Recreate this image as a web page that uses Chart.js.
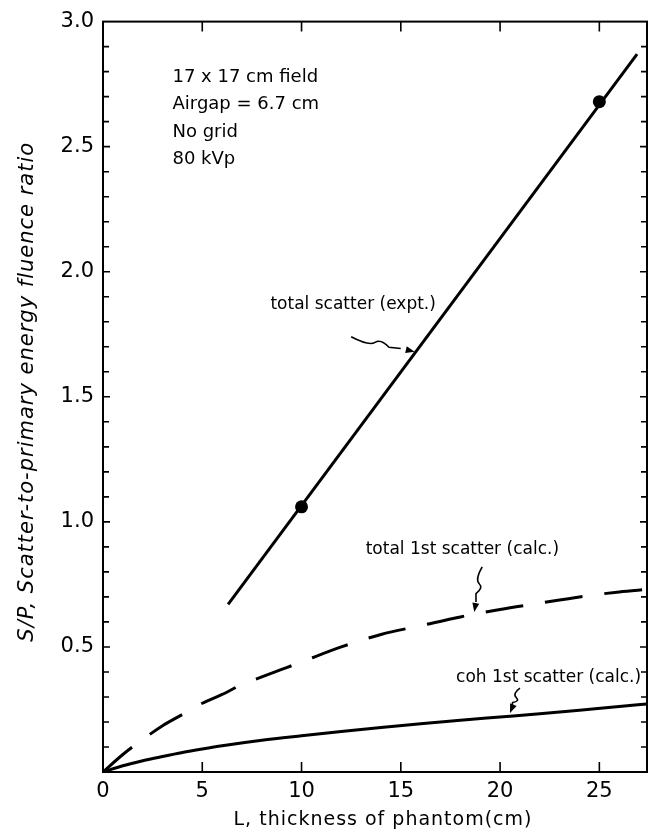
<!DOCTYPE html>
<html>
<head>
<meta charset="utf-8">
<script src="https://cdn.jsdelivr.net/npm/chart.js@4.4.1/dist/chart.umd.min.js"></script>
<style>
  html, body { margin: 0; padding: 0; background: #fff; }
  #wrap { width: 654px; height: 837px; position: relative; }
</style>
</head>
<body>
<div id="wrap"><canvas id="c" width="654" height="837"></canvas></div>
<script>
// ---- data ----
const exptLineX = [6.3, 26.9];
const exptLineY = [0.67, 2.87];
const exptPointX = [10, 25];
const exptPointY = [1.06, 2.68];

const totalCalcX = [0, 1, 2, 3, 4, 5, 6, 7, 8, 9, 10, 12, 14, 16, 18, 20, 22, 24, 26, 27.4];
const totalCalcY = [0, 0.07, 0.13, 0.185, 0.23, 0.275, 0.31, 0.35, 0.38, 0.41, 0.44, 0.50, 0.55, 0.585, 0.62, 0.65, 0.675, 0.70, 0.72, 0.73];

const cohCalcX = [0, 1, 2, 3, 4, 5, 6, 8, 10, 12, 14, 16, 18, 20, 22, 24, 26, 27.4];
const cohCalcY = [0, 0.025, 0.045, 0.062, 0.078, 0.092, 0.105, 0.127, 0.145, 0.162, 0.178, 0.193, 0.207, 0.22, 0.233, 0.247, 0.262, 0.272];

const xTickValues = [0, 5, 10, 15, 20, 25];
const yTickValues = [0.5, 1.0, 1.5, 2.0, 2.5, 3.0];

const infoLines = ["17 x 17 cm field", "Airgap = 6.7 cm", "No grid", "80 kVp"];
const curveLabels = ["total scatter (expt.)", "total 1st scatter (calc.)", "coh 1st scatter (calc.)"];

const xTitle = "L, thickness of phantom(cm)";
const yTitle = "S/P, Scatter-to-primary energy fluence ratio";

// ---- helpers ----
const pts = (xs, ys) => xs.map((x, i) => ({ x: x, y: ys[i] }));
const FONT = "'DejaVu Sans', sans-serif";

// annotation placement (in data units)
const infoPos = { x: 3.5, y: [2.777, 2.668, 2.559, 2.450] };
const labelPos = [
  { x: 12.6, y: 1.87, align: 'center' },
  { x: 18.1, y: 0.888, align: 'center' },
  { x: 27.1, y: 0.378, align: 'right' }
];
const arrows = [
  { from: [12.5, 1.74], to: [15.7, 1.68] },
  { from: [19.1, 0.82], to: [18.7, 0.64] },
  { from: [21.0, 0.335], to: [20.5, 0.236] }
];

const framePlugin = {
  id: 'frame',
  afterDatasetsDraw(chart) {
    const { ctx, chartArea: a, scales: { x, y } } = chart;
    ctx.save();
    ctx.strokeStyle = '#000';
    ctx.fillStyle = '#000';
    ctx.lineWidth = 2;
    ctx.strokeRect(a.left, a.top, a.right - a.left, a.bottom - a.top);
    // inner ticks
    ctx.lineWidth = 1.6;
    ctx.beginPath();
    for (let i = 1; i < 30; i++) {
      const v = i / 10;
      const py = y.getPixelForValue(v);
      const len = (i % 5 === 0) ? 7 : 6;
      ctx.moveTo(a.left, py); ctx.lineTo(a.left + len, py);
      ctx.moveTo(a.right, py); ctx.lineTo(a.right - len, py);
    }
    xTickValues.forEach(v => {
      if (v === 0) return;
      const px = x.getPixelForValue(v);
      ctx.moveTo(px, a.bottom); ctx.lineTo(px, a.bottom - 10);
      ctx.moveTo(px, a.top); ctx.lineTo(px, a.top + 10);
    });
    ctx.stroke();

    // axis titles
    ctx.textAlign = 'center';
    ctx.textBaseline = 'middle';
    ctx.letterSpacing = '1px';
    ctx.font = '19px ' + FONT;
    ctx.fillText(xTitle, (a.left + a.right) / 2 + 8, 820);
    ctx.save();
    ctx.translate(28, (a.top + a.bottom) / 2 - 5);
    ctx.rotate(-Math.PI / 2);
    ctx.font = 'italic 21px ' + FONT;
    ctx.fillText(yTitle, 0, 0);
    ctx.restore();
    ctx.letterSpacing = '0px';

    // info text block
    ctx.font = '18px ' + FONT;
    ctx.textAlign = 'left';
    infoLines.forEach((t, i) => {
      ctx.fillText(t, x.getPixelForValue(infoPos.x), y.getPixelForValue(infoPos.y[i]));
    });
    ctx.font = '17px ' + FONT;
    curveLabels.forEach((t, i) => {
      ctx.textAlign = labelPos[i].align;
      ctx.fillText(t, x.getPixelForValue(labelPos[i].x), y.getPixelForValue(labelPos[i].y));
    });

    // squiggle (lightning) arrows
    ctx.lineWidth = 1.6;
    arrows.forEach(ar => {
      const sx = x.getPixelForValue(ar.from[0]), sy = y.getPixelForValue(ar.from[1]);
      const ex = x.getPixelForValue(ar.to[0]), ey = y.getPixelForValue(ar.to[1]);
      const dx = ex - sx, dy = ey - sy, L = Math.hypot(dx, dy);
      const ux = dx / L, uy = dy / L, nx = -uy, ny = ux;
      const amp = 5;
      const P = (t, o) => [sx + dx * t + nx * o, sy + dy * t + ny * o];
      const p1 = P(0.3, amp), p2 = P(0.45, -amp), p3 = P(0.6, amp * 0.3);
      ctx.beginPath();
      ctx.moveTo(sx, sy);
      ctx.quadraticCurveTo(p1[0], p1[1], (p1[0] + p2[0]) / 2, (p1[1] + p2[1]) / 2);
      ctx.quadraticCurveTo(p2[0], p2[1], p3[0], p3[1]);
      const hb = P(0.78, 0);
      ctx.lineTo(hb[0], hb[1]);
      ctx.stroke();
      const hl = 9, hw = 3.5;
      ctx.beginPath();
      ctx.moveTo(ex, ey);
      ctx.lineTo(ex - ux * hl + nx * hw, ey - uy * hl + ny * hw);
      ctx.lineTo(ex - ux * hl - nx * hw, ey - uy * hl - ny * hw);
      ctx.closePath();
      ctx.fill();
    });
    ctx.restore();
  }
};

new Chart(document.getElementById('c'), {
  type: 'scatter',
  data: {
    datasets: [
      { data: pts(exptLineX, exptLineY), showLine: true, borderColor: '#000', borderWidth: 3, pointRadius: 0 },
      { data: pts(exptPointX, exptPointY), showLine: false, pointRadius: 6.5, backgroundColor: '#000', borderColor: '#000', pointBorderWidth: 0 },
      { data: pts(totalCalcX, totalCalcY), showLine: true, borderColor: '#000', borderWidth: 3, borderDash: [38, 22], pointRadius: 0, cubicInterpolationMode: 'monotone' },
      { data: pts(cohCalcX, cohCalcY), showLine: true, borderColor: '#000', borderWidth: 3, pointRadius: 0, cubicInterpolationMode: 'monotone' }
    ]
  },
  options: {
    responsive: false,
    animation: false,
    events: [],
    layout: { padding: { left: 0, right: 7, top: 15, bottom: 0 } },
    plugins: { legend: { display: false }, tooltip: { enabled: false } },
    scales: {
      x: {
        type: 'linear', min: 0, max: 27.4,
        afterBuildTicks: s => { s.ticks = xTickValues.map(v => ({ value: v })); },
        afterFit: s => { s.height = 65; },
        grid: { display: false, drawTicks: false },
        border: { display: false },
        ticks: { color: '#000', font: { family: FONT, size: 21 }, padding: 7, maxRotation: 0, autoSkip: false, callback: v => String(v) },
        title: { display: false }
      },
      y: {
        type: 'linear', min: 0, max: 3.0,
        afterBuildTicks: s => { s.ticks = yTickValues.map(v => ({ value: v })); },
        afterFit: s => { s.width = 103; },
        grid: { display: false, drawTicks: false },
        border: { display: false },
        ticks: { color: '#000', font: { family: FONT, size: 21 }, padding: 9, autoSkip: false, callback: v => v.toFixed(1) },
        title: { display: false }
      }
    }
  },
  plugins: [framePlugin]
});
</script>
</body>
</html>
